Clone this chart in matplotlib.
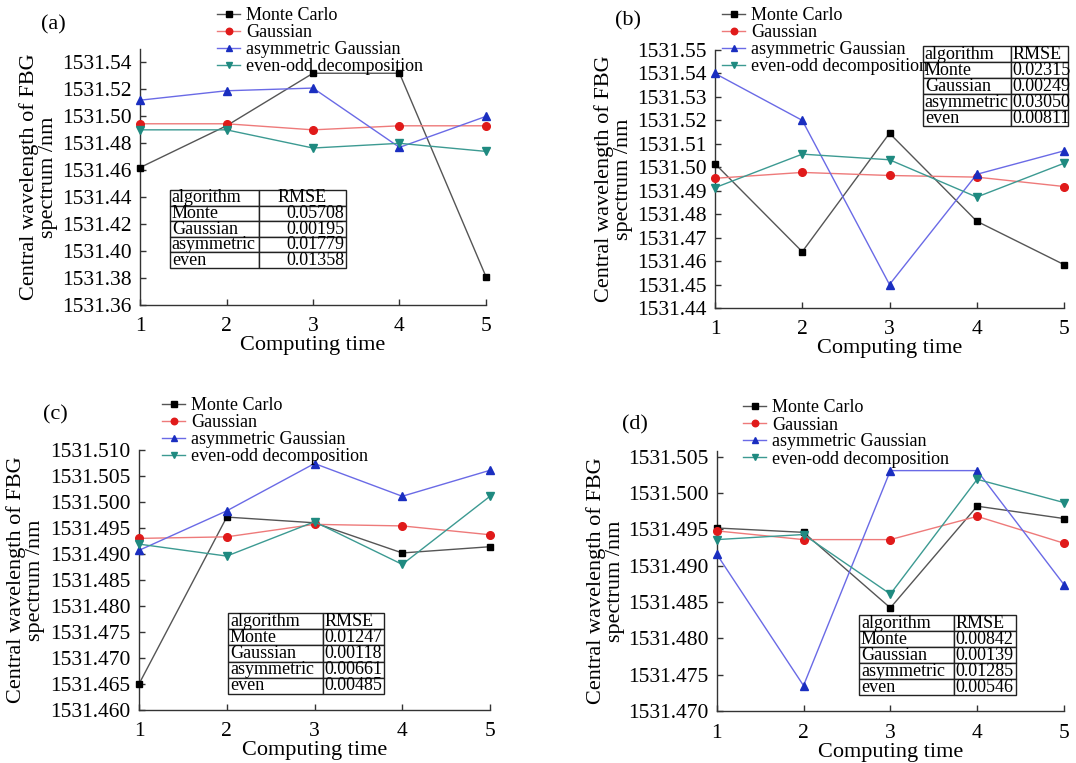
import matplotlib
matplotlib.use("Agg")
import matplotlib.pyplot as plt
from matplotlib.ticker import FormatStrFormatter
import numpy as np

plt.rcParams['font.family'] = ['Liberation Serif', 'DejaVu Serif']
plt.rcParams['mathtext.fontset'] = 'stix'

# ---------------- data ----------------
times = [1, 2, 3, 4, 5]
series_names = ["Monte Carlo", "Gaussian", "asymmetric Gaussian", "even-odd decomposition"]

a_mc = [1531.462, 1531.493, 1531.532, 1531.532, 1531.381]
a_gauss = [1531.4945, 1531.4945, 1531.490, 1531.493, 1531.493]
a_asym = [1531.512, 1531.519, 1531.521, 1531.477, 1531.500]
a_even = [1531.490, 1531.490, 1531.4765, 1531.480, 1531.474]

b_mc = [1531.5015, 1531.464, 1531.5145, 1531.477, 1531.4585]
b_gauss = [1531.4953, 1531.4978, 1531.4965, 1531.4958, 1531.4918]
b_asym = [1531.540, 1531.520, 1531.450, 1531.497, 1531.507]
b_even = [1531.4913, 1531.5056, 1531.5032, 1531.4873, 1531.5017]

c_mc = [1531.465, 1531.4971, 1531.496, 1531.4902, 1531.4914]
c_gauss = [1531.493, 1531.4933, 1531.4957, 1531.4954, 1531.4937]
c_asym = [1531.4907, 1531.4983, 1531.5074, 1531.5011, 1531.5061]
c_even = [1531.4919, 1531.4896, 1531.4962, 1531.488, 1531.5011]

d_mc = [1531.4952, 1531.4946, 1531.4842, 1531.4982, 1531.4965]
d_gauss = [1531.4948, 1531.4936, 1531.4936, 1531.4968, 1531.4931]
d_asym = [1531.4916, 1531.4735, 1531.5031, 1531.5031, 1531.4874]
d_even = [1531.4936, 1531.4943, 1531.4861, 1531.5019, 1531.4987]

table_algorithms = ["Monte", "Gaussian", "asymmetric", "even"]
a_rmse = ["0.05708", "0.00195", "0.01779", "0.01358"]
b_rmse = ["0.02315", "0.00249", "0.03050", "0.00811"]
c_rmse = ["0.01247", "0.00118", "0.00661", "0.00485"]
d_rmse = ["0.00842", "0.00139", "0.01285", "0.00546"]

a_yticks = [1531.36, 1531.38, 1531.40, 1531.42, 1531.44, 1531.46, 1531.48, 1531.50, 1531.52, 1531.54]
b_yticks = [1531.44, 1531.45, 1531.46, 1531.47, 1531.48, 1531.49, 1531.50, 1531.51, 1531.52, 1531.53, 1531.54, 1531.55]
c_yticks = [1531.460, 1531.465, 1531.470, 1531.475, 1531.480, 1531.485, 1531.490, 1531.495, 1531.500, 1531.505, 1531.510]
d_yticks = [1531.470, 1531.475, 1531.480, 1531.485, 1531.490, 1531.495, 1531.500, 1531.505]

# ---------------- style ----------------
W, H = 1076, 763
fig = plt.figure(figsize=(W / 100, H / 100), dpi=100)

line_colors = ["#555555", "#ee7a7a", "#6a6ae6", "#3c9a92"]
marker_colors = ["#000000", "#e01a1a", "#1a2ec0", "#1f8a80"]
markers = ["s", "o", "^", "v"]
msizes = [4.5, 5.5, 5.5, 5.5]


def px_axes(l, t, r, b):
    return fig.add_axes([l / W, 1 - b / H, (r - l) / W, (b - t) / H])


panels = [
    dict(box=(140, 49, 486, 305), data=[a_mc, a_gauss, a_asym, a_even], yt=a_yticks,
         ylim=(1531.36, 1531.55), fmt='%.2f', rmse=a_rmse, tab=(170, 190, 346, 268, 259),
         rmse_align='right', leg=(217, 7), lab=(41, 25, '(a)'), ylab=-0.2925),
    dict(box=(715, 50, 1064, 308), data=[b_mc, b_gauss, b_asym, b_even], yt=b_yticks,
         ylim=(1531.44, 1531.55), fmt='%.2f', rmse=b_rmse, tab=(923, 46, 1068, 126, 1011),
         rmse_align='left', leg=(722, 7), lab=(615, 21, '(b)'), ylab=-0.292),
    dict(box=(139, 450, 490, 710), data=[c_mc, c_gauss, c_asym, c_even], yt=c_yticks,
         ylim=(1531.460, 1531.510), fmt='%.3f', rmse=c_rmse, tab=(228, 613, 384, 694, 323),
         rmse_align='left', leg=(162, 397), lab=(43, 415, '(c)'), ylab=-0.322),
    dict(box=(716.7, 451, 1064, 711), data=[d_mc, d_gauss, d_asym, d_even], yt=d_yticks,
         ylim=(1531.470, 1531.5058), fmt='%.3f', rmse=d_rmse, tab=(859, 615, 1016, 695, 954),
         rmse_align='left', leg=(743, 399.5), lab=(622, 425, '(d)'), ylab=-0.320),
]

for p in panels:
    l, t, r, b = p['box']
    ax = px_axes(l, t, r, b)
    handles = []
    for vals, lc, mc, mk, ms, name in zip(p['data'], line_colors, marker_colors, markers, msizes, series_names):
        h, = ax.plot(times, vals, color=lc, lw=1.0, marker=mk, ms=ms, mfc=mc, mec=mc,
                     label=name, clip_on=False, zorder=3)
        handles.append(h)
    ax.set_xlim(1, 5)
    ax.set_ylim(*p['ylim'])
    ax.set_xticks(times)
    ax.set_yticks(p['yt'])
    ax.yaxis.set_major_formatter(FormatStrFormatter(p['fmt']))
    for s in ['top', 'right']:
        ax.spines[s].set_visible(False)
    for s in ['left', 'bottom']:
        ax.spines[s].set_linewidth(1.0)
        ax.spines[s].set_color('#333333')
    ax.tick_params(direction='in', length=4, width=1.0, labelsize=15.5, colors='#333333',
                   labelcolor='black')
    ax.tick_params(axis='x', pad=9)
    ax.tick_params(axis='y', pad=6)
    ax.set_xlabel("Computing time", fontsize=16, labelpad=0)
    ax.set_ylabel("Central wavelength of FBG\nspectrum /nm", fontsize=16, linespacing=1.0)
    ax.yaxis.set_label_coords(p['ylab'], 0.5)
    ax.yaxis.label.set_verticalalignment('center')

    # legend
    lx, ly = p['leg']
    fig.legend(handles=handles, loc='upper left', bbox_to_anchor=(lx / W, 1 - ly / H),
               frameon=False, fontsize=13, handlelength=1.3, handletextpad=0.3,
               labelspacing=0.0, borderpad=0, borderaxespad=0, markerscale=0.85)

    # table
    tl, tt, tr, tb, tsplit = p['tab']
    cell_text = [["algorithm", "RMSE"]] + [[n, v] for n, v in zip(table_algorithms, p['rmse'])]
    bx0 = (tl - l) / (r - l)
    by0 = (b - tb) / (b - t)
    bw = (tr - tl) / (r - l)
    bh = (tb - tt) / (b - t)
    frac1 = (tsplit - tl) / (tr - tl)
    tbl = ax.table(cellText=cell_text, bbox=[bx0, by0, bw, bh], cellLoc='left',
                   colWidths=[frac1, 1 - frac1])
    tbl.auto_set_font_size(False)
    tbl.set_fontsize(13)
    tbl.set_clip_on(False)
    for (ri, ci), cell in tbl.get_celld().items():
        cell.set_linewidth(1.0)
        cell.set_edgecolor('#222222')
        cell.set_facecolor('white')
        cell.PAD = 0.02
        if ci == 1:
            if ri == 0 and p['rmse_align'] == 'right':
                loc = 'center'
            else:
                loc = p['rmse_align']
            cell._loc = loc
            cell.get_text().set_horizontalalignment(loc)
    tbl.set_zorder(5)

    # panel label
    fig.text(p['lab'][0] / W, 1 - p['lab'][1] / H, p['lab'][2], fontsize=16,
             ha='left', va='center')

fig.savefig("out.png", dpi=100)
